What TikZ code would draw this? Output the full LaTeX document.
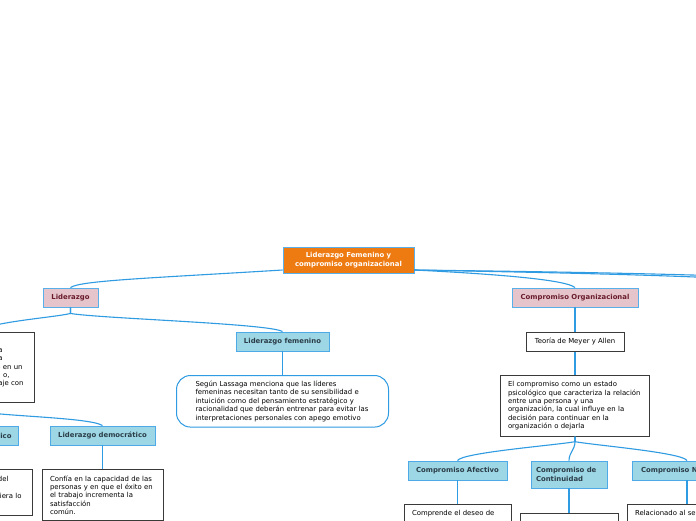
\documentclass[tikz,border=0pt]{standalone}
\usepackage{fontspec}
\setmainfont{DejaVu Sans}

\definecolor{raizfondo}{HTML}{EE7A12}
\definecolor{lineaazul}{HTML}{2F9BE2}
\definecolor{rosafondo}{HTML}{E5C5CB}
\definecolor{rosatexto}{HTML}{6A1B2B}
\definecolor{celeste}{HTML}{9DD6E4}
\definecolor{celestetexto}{HTML}{2A3D48}
\definecolor{bordecaja}{HTML}{3A3A3A}

\newcommand{\fuentetit}{\fontsize{6.9}{8.4}\selectfont\bfseries}
\newcommand{\fuentetxt}{\fontsize{6.9}{8.4}\selectfont}
\newcommand{\hueco}[1]{\rule{#1}{0pt}}

\begin{document}
\begin{tikzpicture}[
	x=1pt, y=-1pt,
	raiz/.style={
		rectangle,
		fill=raizfondo,
		draw=lineaazul!80,
		line width=0.8pt,
		text=white,
		align=center,
		font=\fuentetit,
		minimum width=131pt,
		minimum height=26pt,
		inner sep=2pt
	},
	rama/.style={rectangle, fill=rosafondo, draw=lineaazul!80, line width=0.9pt, text=rosatexto, font=\fuentetit, minimum height=19pt, inner sep=2pt},
	tema/.style={rectangle, fill=celeste, draw=lineaazul!85, line width=0.9pt, text=celestetexto, font=\fuentetit, minimum height=19pt, inner sep=2pt},
	nota/.style={rectangle, fill=white, draw=bordecaja, line width=1pt, font=\fuentetxt, align=left, inner xsep=8pt, inner ysep=6pt, anchor=north},
	nube/.style={nota, draw=lineaazul, rounded corners=14pt, inner xsep=19pt, inner ysep=5.5pt},
	enlace/.style={draw=lineaazul, line width=1.1pt}
]

\useasboundingbox (0,0) rectangle (696,520);
\clip (0,0) rectangle (696,520);
\fill[white] (0,0) rectangle (696,520);

\node[raiz] (raiz) at (348.5,260) {Liderazgo Femenino y\\compromiso organizacional};

% Ramas principales
\node[rama, minimum width=55pt] (lid) at (70.5,297.5) {Liderazgo};
\node[rama, minimum width=126pt] (comp) at (575,297.5) {Compromiso Organizacional};
\coordinate (rama3) at (900,297);
\coordinate (rama4) at (1000,300);

\draw[enlace] ([yshift=-10pt]raiz.west) .. controls +(-130,8) and +(9,-7) .. (lid.north);
\draw[enlace] ([yshift=-10pt]raiz.east) .. controls +(80,4) and +(-9,-8) .. (comp.north);
\draw[enlace] ([yshift=-10pt]raiz.east) .. controls +(150,3) and +(-40,-20) .. (rama3);
\draw[enlace] ([yshift=-10pt]raiz.east) .. controls +(150,2) and +(-40,-24) .. (rama4);

% Liderazgo
\node[nota, text width=96pt, align=right, anchor=north east] (lidnota) at (35,331.5) {\strut\\a\hueco{24pt}\\a\hueco{24pt}\\o en un\hueco{4pt}\\o,\hueco{17pt}\\aje con\hueco{3pt}\\\strut};
\node[tema, minimum width=93pt] (fem) at (282.5,341.5) {Liderazgo femenino};
\node[nube, text width=174pt] (femnota) at (282.5,375) {Según Lassaga menciona que las líderes\\femeninas necesitan tanto de su sensibilidad e\\intuición como del pensamiento estratégico y\\racionalidad que deberán entrenar para evitar las\\interpretaciones personales con apego emotivo};

\draw[enlace] (lid.south) -- ++(0,6) .. controls +(29,5) and +(-13,-8) .. (fem.north);
\draw[enlace] (lid.south) -- ++(0,6) .. controls +(-16,4) and +(10,-9.5) .. (lidnota.north);
\draw[enlace] (fem.south) -- (femnota.north);

\node[tema, text width=50pt, align=right, anchor=east, inner xsep=7pt] (autoc) at (19,435.5) {ico};
\node[tema, minimum width=105pt] (dem) at (102.5,435.5) {Liderazgo democrático};
\node[nota, text width=90pt, align=right, anchor=north east] (autonota) at (33,469) {\strut del\hueco{16pt}\\\strut\\\strut iera lo\hueco{3pt}\\\strut};
\node[nota, text width=105pt] (demnota) at (102.5,469) {Confía en la capacidad de las\\personas y en que el éxito en\\el trabajo incrementa la\\satisfacción\\común.};

\draw[enlace] (lidnota.south) -- ++(0,8) .. controls +(25,5) and +(-12,-8) .. (dem.north);
\draw[enlace] (lidnota.south) -- ++(0,8) .. controls +(5,3) and +(-3,-6) .. (autoc.north);
\draw[enlace] (autoc.south) -- (autonota.north);
\draw[enlace] (dem.south) -- (demnota.north);

% Compromiso organizacional
\node[nota, align=center, anchor=center, minimum width=98pt, minimum height=19pt, inner ysep=2pt] (meyer) at (575,341.5) {Teoría de Meyer y Allen};
\node[nota, text width=134pt, inner xsep=7.5pt] (compnota) at (575,375) {El compromiso como un estado\\psicológico que caracteriza la relación\\entre una persona y una\\organización, la cual influye en la\\decisión para continuar en la\\organización o dejarla};

\draw[enlace] (comp.south) -- (meyer.north);
\draw[enlace] (meyer.south) -- (compnota.north);

\node[tema, minimum width=99pt] (afec) at (457.5,470.5) {Compromiso Afectivo};
\node[tema, text width=66pt, align=left, inner xsep=5pt, minimum height=27pt] (cont) at (569,474.5) {Compromiso de\\Continuidad};
\node[tema, text width=92pt, align=left, inner xsep=9pt] (norm) at (687,470.5) {Compromiso N};

\draw[enlace] (compnota.south) -- ++(0,5) .. controls +(-20,3.6) and +(4.5,-8) .. (afec.north);
\draw[enlace] (compnota.south) -- ++(0,5) .. controls +(0,8) and +(0,-8) .. (cont.north);
\draw[enlace] (compnota.south) -- ++(0,5) .. controls +(20,3.6) and +(-4.5,-8) .. (norm.north);

\node[nota, text width=91pt] (afecnota) at (457.5,504) {Comprende el deseo de};
\node[nota, text width=82pt, minimum height=20pt] (contnota) at (569,513) {};
\node[nota, text width=104pt] (normnota) at (687,504) {Relacionado al se};

\draw[enlace] (afec.south) -- (afecnota.north);
\draw[enlace] (cont.south) -- (contnota.north);
\draw[enlace] (norm.south) -- (normnota.north);
\end{tikzpicture}
\end{document}
